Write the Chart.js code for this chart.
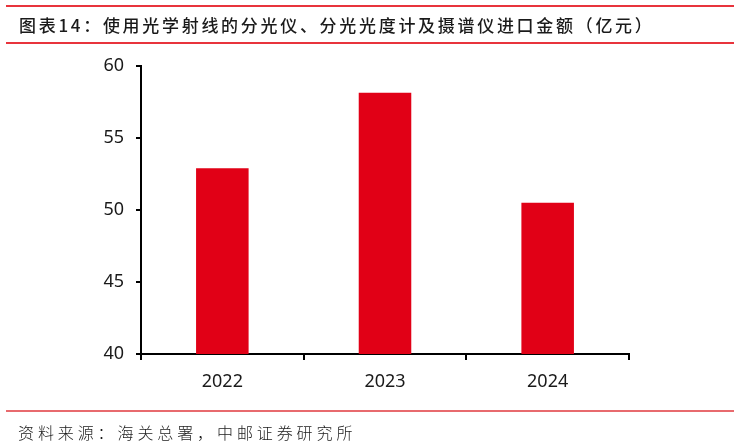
<!DOCTYPE html>
<html>
<head>
<meta charset="utf-8">
<script src="https://cdn.jsdelivr.net/npm/chart.js@4/dist/chart.umd.min.js"></script>
<style>
  html, body { margin: 0; padding: 0; background: #fff; }
  #wrap { position: relative; width: 740px; height: 446px; overflow: hidden; }
  #c { position: absolute; left: 0; top: 0; }
  .line { position: absolute; left: 6px; width: 728px; height: 2px; background: #E8343C; }
  #title { position: absolute; left: 19px; top: 13px; font-family: "Noto Sans CJK SC", sans-serif; font-size: 17px; letter-spacing: 2.7px; color: #1a1a1a; white-space: nowrap; line-height: 24px; font-weight: 500; }
  #source { position: absolute; left: 18px; top: 421px; font-family: "Noto Sans CJK SC", sans-serif; font-size: 16px; letter-spacing: 3.9px; color: #1a1a1a; white-space: nowrap; line-height: 22px; font-weight: 300; }
</style>
</head>
<body>
<div id="wrap">
  <canvas id="c" width="740" height="446"></canvas>
  <div class="line" style="top:5px;"></div>
  <div id="title">图表14：使用光学射线的分光仪、分光光度计及摄谱仪进口金额（亿元）</div>
  <div class="line" style="top:42px;"></div>
  <div class="line" style="top:410px; background:#E86A6E;"></div>
  <div id="source">资料来源：海关总署，中邮证券研究所</div>
</div>
<script>
const categories = ["2022", "2023", "2024"];
const importValues = [52.9, 58.15, 50.5];
const yTicks = [40, 45, 50, 55, 60];

const ctx = document.getElementById('c').getContext('2d');
new Chart(ctx, {
  type: 'bar',
  data: {
    labels: categories,
    datasets: [{
      data: importValues,
      backgroundColor: '#E10016',
      borderWidth: 0,
      barPercentage: 0.323,
      categoryPercentage: 1.0
    }]
  },
  options: {
    responsive: false,
    animation: false,
    devicePixelRatio: 1,
    layout: { padding: { left: 0, top: 66, right: 111, bottom: 0 } },
    plugins: { legend: { display: false }, tooltip: { enabled: false }, title: { display: false } },
    scales: {
      x: {
        offset: true,
        border: { display: true, color: '#000', width: 2 },
        grid: { display: true, drawOnChartArea: false, drawTicks: true, tickLength: 6, offset: true, color: '#000', lineWidth: 2 },
        ticks: { color: '#1a1a1a', font: { family: 'Noto Sans', size: 18 }, padding: 11 },
        afterFit: s => { s.height = 446 - 354; }
      },
      y: {
        min: 40, max: 60,
        afterBuildTicks: s => { s.ticks = yTicks.map(v => ({ value: v })); },
        border: { display: true, color: '#000', width: 2 },
        grid: { display: true, drawOnChartArea: false, drawTicks: true, tickLength: 5, color: '#000', lineWidth: 2 },
        ticks: { color: '#1a1a1a', font: { family: 'Noto Sans', size: 18 }, padding: 12 },
        afterFit: s => { s.width = 141; }
      }
    }
  }
});
</script>
</body>
</html>
